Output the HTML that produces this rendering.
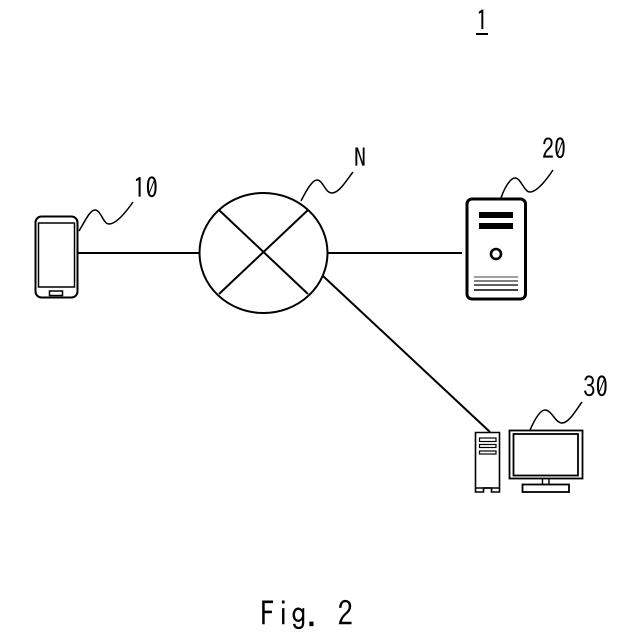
<!DOCTYPE html>
<html>
<head>
<meta charset="utf-8">
<style>
html,body{margin:0;padding:0;background:#fff;width:640px;height:640px;overflow:hidden}
svg{display:block}
text{font-family:"IPAGothic","Liberation Sans",sans-serif;fill:#000;text-rendering:geometricPrecision}
</style>
</head>
<body>
<svg width="640" height="640" viewBox="0 0 640 640" xmlns="http://www.w3.org/2000/svg">
<rect width="640" height="640" fill="#fff"/>

<!-- title ref -->
<text x="476" y="30.5" font-size="28" textLength="12" lengthAdjust="spacingAndGlyphs">1</text>
<rect x="476" y="33" width="12" height="2" fill="#000"/>

<!-- connectors -->
<g fill="none" stroke="#000" stroke-linecap="butt">
<line x1="78" y1="253" x2="200" y2="253" stroke-width="2"/>
<line x1="328" y1="253" x2="462" y2="253" stroke-width="2"/>
<line x1="323" y1="276" x2="490" y2="432" stroke-width="2"/>

<!-- network -->
<ellipse cx="263.5" cy="253" rx="64" ry="60" stroke-width="2"/>
<line x1="219" y1="210" x2="308" y2="294" stroke-width="2"/>
<line x1="308" y1="210" x2="219" y2="294" stroke-width="2"/>

<!-- leaders -->
<path d="M79 231C85 221 90 210 95 210C101 210 103 224 109 224C116 224 126 212 133 202" stroke-width="1.5"/>
<path d="M301 201C306 191 312 180 317 180C323 180 325 193 332 193C339 193 346 181 353 172" stroke-width="1.5"/>
<path d="M501 198C504 189 510 178 515 178C521 178 524 192 530 192C537 192 547 179 553 170" stroke-width="1.5"/>
<path d="M530 430C534 421 540 410 545 410C552 410 555 423 562 423C569 423 576 410 582 402" stroke-width="1.5"/>

<!-- phone -->
<rect x="35.5" y="216.5" width="42" height="81" rx="6" ry="6" stroke-width="2"/>
<rect x="38.5" y="223" width="36" height="64" stroke-width="1.5"/>
<rect x="49.5" y="291" width="13" height="4.5" stroke-width="1.5"/>

<!-- server -->
<rect x="467" y="199" width="58.5" height="100" rx="5" ry="5" stroke-width="3"/>
<circle cx="496" cy="254" r="5" stroke-width="2.6"/>
<line x1="474" y1="277" x2="518" y2="277" stroke-width="0.8"/>
<line x1="474" y1="281" x2="518" y2="281" stroke-width="1"/>
<line x1="474" y1="285" x2="518" y2="285" stroke-width="1.2"/>
<line x1="474" y1="290" x2="518" y2="290" stroke-width="1.4"/>

<!-- tower -->
<path d="M475.5 432.5H499.5V492H491.5V488H483.5V492H475.5Z" stroke-width="1.6"/>
<line x1="475.5" y1="488" x2="499.5" y2="488" stroke-width="1.4"/>
<rect x="479.5" y="438" width="16.5" height="3.5" stroke-width="1.2"/>
<rect x="479.5" y="444.5" width="16.5" height="3" stroke-width="1.2"/>
<rect x="479.5" y="451" width="16.5" height="3" stroke-width="1.2"/>

<!-- monitor -->
<rect x="509.5" y="430.5" width="73" height="48" stroke-width="1.8"/>
<rect x="513.5" y="434" width="64.5" height="41.5" stroke-width="1.8"/>
<path d="M542.5 479V484M549 479V484" stroke-width="1.4"/>
<rect x="522.5" y="484.5" width="46.5" height="7.5" stroke-width="1.8"/>
</g>

<rect x="479" y="212" width="34" height="6" fill="#000"/>
<rect x="479" y="223" width="34" height="6" fill="#000"/>

<!-- labels -->
<text x="133" y="198" font-size="28" textLength="25" lengthAdjust="spacingAndGlyphs">10</text>
<text x="354" y="167" font-size="26" textLength="12" lengthAdjust="spacingAndGlyphs">N</text>
<text x="542" y="159" font-size="28" textLength="24" lengthAdjust="spacingAndGlyphs">20</text>
<text x="583" y="397" font-size="28" textLength="25" lengthAdjust="spacingAndGlyphs">30</text>
<text x="260" y="626" font-size="34" textLength="93" lengthAdjust="spacingAndGlyphs" xml:space="preserve">Fig. 2</text>
</svg>
</body>
</html>
